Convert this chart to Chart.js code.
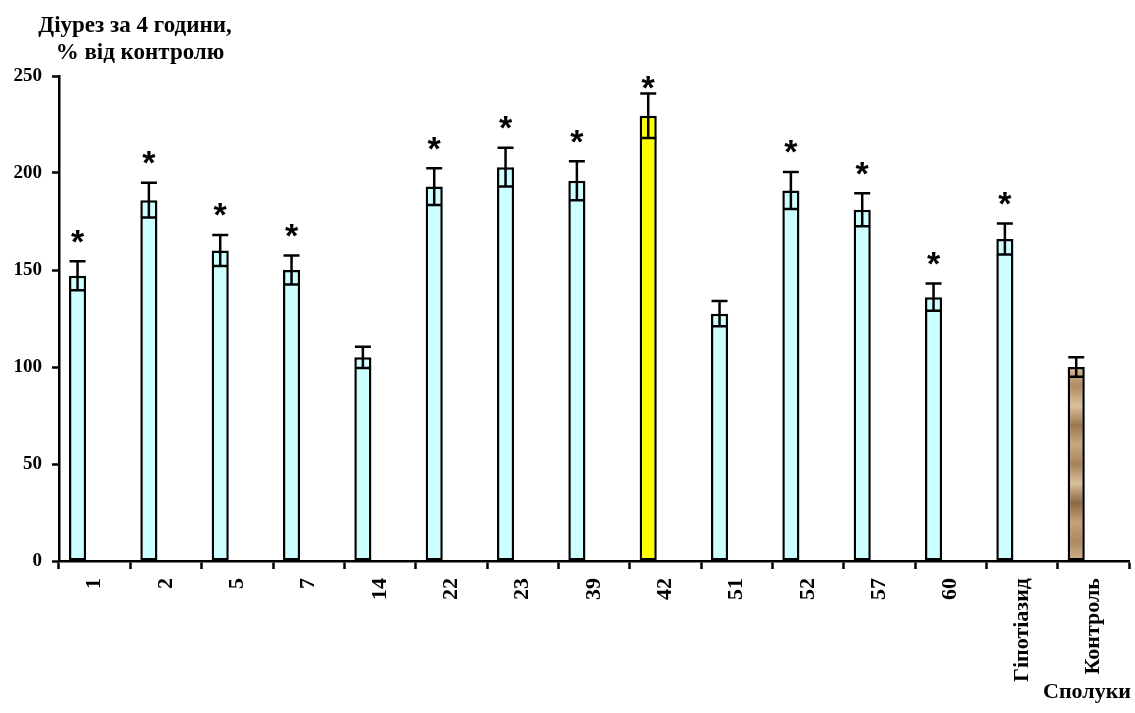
<!DOCTYPE html>
<html>
<head>
<meta charset="utf-8">
<script src="https://cdn.jsdelivr.net/npm/chart.js@4/dist/chart.umd.min.js"></script>
<style>
    body { margin: 0; background: #fff; }
    #wrap { width: 1135px; height: 713px; }
</style>
</head>
<body>
<div id="wrap"><canvas id="diuresisChart" width="1135" height="713"></canvas></div>
<script>
const compounds = ['1', '2', '5', '7', '14', '22', '23', '39', '42', '51', '52', '57', '60', 'Гіпотіазид', 'Контроль'];
const diuresis = [147, 186, 160, 150, 105, 193, 203, 196, 229.5, 127.5, 191, 181, 136, 166, 100];
const errors = [7.5, 9, 8, 7.5, 5.5, 9.5, 10, 10, 11.5, 6.5, 9.5, 8.5, 7, 8, 5];
const significant = [true, true, true, true, false, true, true, true, true, false, true, true, true, true, false];
const yTicks = [0, 50, 100, 150, 200, 250];

const FONT = '"Liberation Serif", "Times New Roman", serif';

class DiuresisChart {
    constructor() {
        this.render();
    }

    barColor(ctx) {
        const i = ctx.dataIndex;
        if (compounds[i] === '42') return '#FFFF00';
        if (compounds[i] === 'Контроль') {
            const area = ctx.chart.chartArea;
            const y = ctx.chart.scales.y;
            if (!area || !y) return '#c4a27a';
            const top = y.getPixelForValue(diuresis[i]);
            if (!isFinite(top) || !isFinite(area.bottom)) return '#c4a27a';
            const g = ctx.chart.ctx.createLinearGradient(0, top, 0, area.bottom);
            const browns = ['#d6b993', '#b08a60', '#dcc29c', '#9a7650', '#c9a87f', '#a6825a', '#d9bf99', '#8c6944', '#c4a177', '#ad8860', '#d2b58e'];
            browns.forEach((c, k) => g.addColorStop(k / (browns.length - 1), c));
            return g;
        }
        return '#CCFFFF';
    }

    errorBarsPlugin() {
        return {
            id: 'errorBars',
            afterDatasetsDraw(chart) {
                const ctx = chart.ctx;
                const y = chart.scales.y;
                const bars = chart.getDatasetMeta(0).data;
                const area = chart.chartArea;
                ctx.save();
                ctx.strokeStyle = '#000';
                ctx.lineWidth = 2.5;
                bars.forEach((bar, i) => {
                    const hi = y.getPixelForValue(diuresis[i] + errors[i]);
                    const lo = y.getPixelForValue(diuresis[i] - errors[i]);
                    const half = 8;
                    ctx.beginPath();
                    ctx.moveTo(bar.x, lo);
                    ctx.lineTo(bar.x, hi);
                    ctx.moveTo(bar.x - half, hi);
                    ctx.lineTo(bar.x + half, hi);
                    ctx.moveTo(bar.x - half, lo);
                    ctx.lineTo(bar.x + half, lo);
                    ctx.stroke();
                    if (significant[i]) {
                        ctx.fillStyle = '#000';
                        ctx.font = 'bold 34px "Liberation Sans", Arial, sans-serif';
                        ctx.textAlign = 'center';
                        ctx.textBaseline = 'middle';
                        const sy = Math.max(area.top + 14, hi - 18);
                        ctx.fillText('*', bar.x, sy);
                    }
                });
                ctx.restore();
            }
        };
    }

    titlesPlugin() {
        return {
            id: 'titles',
            afterDraw(chart) {
                const ctx = chart.ctx;
                ctx.save();
                ctx.fillStyle = '#000';
                ctx.font = 'bold 23px ' + FONT;
                ctx.textAlign = 'center';
                ctx.textBaseline = 'middle';
                ctx.fillText('Діурез за 4 години,', 135, 26);
                ctx.fillText('% від контролю', 140, 53);
                ctx.font = 'bold 22px ' + FONT;
                ctx.fillText('Сполуки', 1087, 692);
                ctx.restore();
            }
        };
    }

    render() {
        const canvas = document.getElementById('diuresisChart');
        const empty = compounds.map(() => null);
        new Chart(canvas.getContext('2d'), {
            type: 'bar',
            data: {
                labels: compounds,
                datasets: [
                    {
                        data: diuresis,
                        backgroundColor: ctx => this.barColor(ctx),
                        borderColor: '#000',
                        borderWidth: 2.5,
                        borderSkipped: false
                    },
                    { data: empty },
                    { data: empty }
                ]
            },
            options: {
                responsive: false,
                animation: false,
                events: [],
                layout: { padding: { top: 76, right: 6, left: 0, bottom: 0 } },
                categoryPercentage: 0.72,
                barPercentage: 1,
                plugins: {
                    legend: { display: false },
                    tooltip: { enabled: false }
                },
                scales: {
                    x: {
                        afterFit: s => { s.height = 152; },
                        border: { color: '#000', width: 2.5 },
                        grid: { offset: true, drawOnChartArea: false, tickLength: 8, tickColor: '#000', tickWidth: 2.5 },
                        ticks: {
                            color: '#000',
                            font: { family: FONT, size: 22, weight: 'bold' },
                            minRotation: 90,
                            maxRotation: 90,
                            padding: 9,
                            autoSkip: false
                        }
                    },
                    y: {
                        min: 0,
                        max: 250,
                        afterFit: s => { s.width = 59; },
                        afterBuildTicks: s => { s.ticks = yTicks.map(v => ({ value: v })); },
                        border: { color: '#000', width: 2.5 },
                        grid: { drawOnChartArea: false, tickLength: 7, tickColor: '#000', tickWidth: 2.5 },
                        ticks: {
                            color: '#000',
                            font: { family: FONT, size: 19, weight: 'bold' },
                            padding: 10
                        }
                    }
                }
            },
            plugins: [this.errorBarsPlugin(), this.titlesPlugin()]
        });
    }
}

document.addEventListener('DOMContentLoaded', () => new DiuresisChart());
</script>
</body>
</html>
